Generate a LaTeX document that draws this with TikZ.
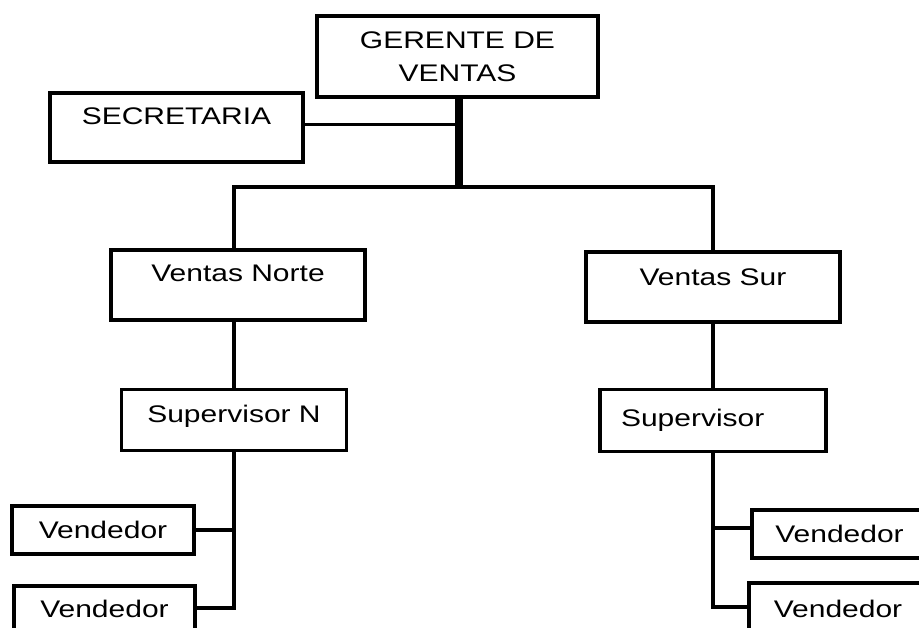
\documentclass[tikz,border=0pt]{standalone}
\usepackage{fontspec}
\setmainfont{Liberation Sans}[FakeStretch=1.25]
\usetikzlibrary{positioning}

\begin{document}
\begin{tikzpicture}[x=1pt, y=-1pt, line width=3.5pt,
    font=\fontsize{24}{33}\selectfont,
    box/.style n args={3}{draw, inner sep=0pt, minimum width=#1,
      text height=#2, text depth=#3},
    trunk/.style={line width=8pt}]
  \useasboundingbox (0,0) rectangle (919,628);
  \clip (0,0) rectangle (919,628);

  \node[draw, inner sep=0pt, minimum width=281pt, minimum height=81pt, align=center] (gerente) at (457.5,56.5) {GERENTE DE\\VENTAS};
  \node[box={253pt}{32pt}{37pt}] (secretaria) at (176.5,127.5) {SECRETARIA};
  \node[box={254pt}{31.5pt}{38.5pt}] (vnorte) at (238,285) {Ventas Norte};
  \node[box={254pt}{33.5pt}{36.5pt}] (vsur) at (713,287) {Ventas Sur};
  \node[box={225pt}{32.5pt}{28.5pt}] (supn) [below=66pt of vnorte, xshift=-4pt] {Supervisor N};
  \node[box={226pt}{37.5pt}{24.5pt}, text width=184pt, inner xsep=21pt, align=left] (sups) [below=64pt of vsur] {Supervisor};
  \node[box={182pt}{32pt}{16pt}] (vendl1) at (103,530) {Vendedor};
  \node[box={181pt}{31pt}{13pt}] (vendl2) at (104.5,608) {Vendedor};
  \node[box={175pt}{32pt}{16pt}] (vendr1) at (839.5,534) {Vendedor};
  \node[box={178pt}{34pt}{14pt}] (vendr2) at (838,607) {Vendedor};

  \coordinate (jn) at (458.5,187);
  \draw[trunk] (gerente.south -| jn) -- (jn);
  \draw ([yshift=3pt]secretaria.east) -- ([yshift=3pt]secretaria.east -| jn);
  \draw (vnorte.north -| supn.north) |- (jn) -| (vsur.north);
  \draw (vnorte.south -| supn.north) -- (supn.north);
  \draw (vsur) -- (sups);
  \draw (supn.south) |- (vendl2.east);
  \draw (vendl1.east) -- (vendl1.east -| supn.south);
  \draw (sups.south) |- (vendr2.west);
  \draw ([yshift=6pt]vendr1.west) -- ([yshift=6pt]vendr1.west -| sups.south);
\end{tikzpicture}
\end{document}
